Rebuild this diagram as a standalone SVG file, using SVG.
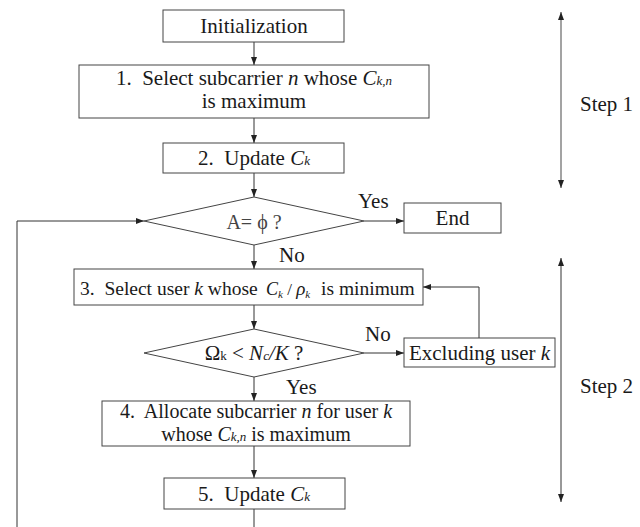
<svg xmlns="http://www.w3.org/2000/svg" width="640" height="527" viewBox="0 0 640 527">
<defs>
<marker id="ah" viewBox="0 0 8 6" refX="8" refY="3" markerWidth="8" markerHeight="6" markerUnits="userSpaceOnUse" orient="auto-start-reverse">
<path d="M0,0 L8,3 L0,6 Z" fill="#222"/>
</marker>
<style>
.box{fill:#fff;stroke:#444;stroke-width:1}
.ln{fill:none;stroke:#333;stroke-width:1}
text{font-family:"Liberation Serif","Times New Roman",serif;font-size:21px;fill:#1a1a1a}
.c{text-anchor:middle}
.i{font-style:italic}
.s{font-size:13px;font-style:italic}
</style>
</defs>
<rect width="640" height="527" fill="#fff"/>
<g id="connectors">
<line class="ln" x1="254" y1="42" x2="254" y2="65" marker-end="url(#ah)"/>
<line class="ln" x1="254" y1="118" x2="254" y2="143" marker-end="url(#ah)"/>
<line class="ln" x1="254" y1="173" x2="254" y2="197" marker-end="url(#ah)"/>
<line class="ln" x1="364" y1="221" x2="404" y2="221" marker-end="url(#ah)"/>
<line class="ln" x1="254" y1="245" x2="254" y2="269" marker-end="url(#ah)"/>
<line class="ln" x1="254" y1="305" x2="254" y2="329" marker-end="url(#ah)"/>
<line class="ln" x1="364" y1="353" x2="404" y2="353" marker-end="url(#ah)"/>
<polyline class="ln" points="479,338 479,287 423,287" marker-end="url(#ah)"/>
<line class="ln" x1="254" y1="377" x2="254" y2="401" marker-end="url(#ah)"/>
<line class="ln" x1="254" y1="446" x2="254" y2="478" marker-end="url(#ah)"/>
<line class="ln" x1="254" y1="509" x2="254" y2="527"/>
<polyline class="ln" points="17,527 17,221 144,221" marker-end="url(#ah)"/>
<line x1="561" y1="12" x2="561" y2="188" stroke="#666" stroke-width="1.2" marker-start="url(#ah)" marker-end="url(#ah)"/>
<line x1="561" y1="258" x2="561" y2="502" stroke="#333" stroke-width="1" marker-start="url(#ah)" marker-end="url(#ah)"/>
<text x="358" y="208">Yes</text>
<text x="279" y="262">No</text>
<text x="365" y="341">No</text>
<text x="286" y="394">Yes</text>
<text x="580" y="111">Step 1</text>
<text x="580" y="393">Step 2</text>
</g>
<g id="init">
<rect class="box" x="163" y="10" width="181" height="32"/>
<text class="c" x="254" y="33">Initialization</text>
</g>
<g id="step1">
<rect class="box" x="79" y="65" width="350" height="53"/>
<text class="c" x="254" y="85">1.&#160; Select subcarrier <tspan class="i">n</tspan> whose <tspan class="i">C</tspan><tspan class="s">k,n</tspan></text>
<text class="c" x="254" y="108">is maximum</text>
</g>
<g id="step2">
<rect class="box" x="163" y="143" width="181" height="30"/>
<text class="c" x="254" y="165">2.&#160; Update <tspan class="i">C</tspan><tspan class="s">k</tspan></text>
</g>
<g id="decisionA">
<polygon class="box" points="254,197 364,221 254,245 144,221"/>
<text class="c" x="254" y="229" style="fill:#444;font-size:20px">A= ϕ ?</text>
</g>
<g id="end">
<rect class="box" x="404" y="203" width="97" height="30"/>
<text class="c" x="452.5" y="225">End</text>
</g>
<g id="step3">
<rect class="box" x="74" y="269" width="349" height="36"/>
<text x="80" y="295" style="font-size:19.5px">3.&#160; Select user <tspan class="i">k</tspan> whose<tspan x="266" class="i" style="font-size:18px">C</tspan><tspan class="s" dy="3" style="font-size:11px">k</tspan><tspan dy="-3" style="font-size:17px"> / </tspan><tspan class="i" style="font-size:19px">ρ</tspan><tspan class="s" dy="3" style="font-size:11px">k</tspan><tspan x="321" dy="-3">is minimum</tspan></text>
</g>
<g id="decisionB">
<polygon class="box" points="254,329 364,353 254,377 144,353"/>
<text class="c" x="254" y="360">Ω<tspan style="font-size:13px">k</tspan> &lt; <tspan class="i">N</tspan><tspan class="s">c</tspan><tspan class="i">/K</tspan> ?</text>
</g>
<g id="exclude">
<rect class="box" x="404" y="338" width="151" height="29"/>
<text class="c" x="479.5" y="360">Excluding user <tspan class="i">k</tspan></text>
</g>
<g id="step4">
<rect class="box" x="102" y="401" width="308" height="45"/>
<text class="c" x="256" y="418" style="font-size:20px">4.&#160; Allocate subcarrier <tspan class="i">n</tspan> for user <tspan class="i">k</tspan></text>
<text class="c" x="256" y="441" style="font-size:20px">whose <tspan class="i">C</tspan><tspan class="s">k,n</tspan> is maximum</text>
</g>
<g id="step5">
<rect class="box" x="164" y="478" width="181" height="31"/>
<text class="c" x="254" y="501">5.&#160; Update <tspan class="i">C</tspan><tspan class="s">k</tspan></text>
</g>
</svg>
